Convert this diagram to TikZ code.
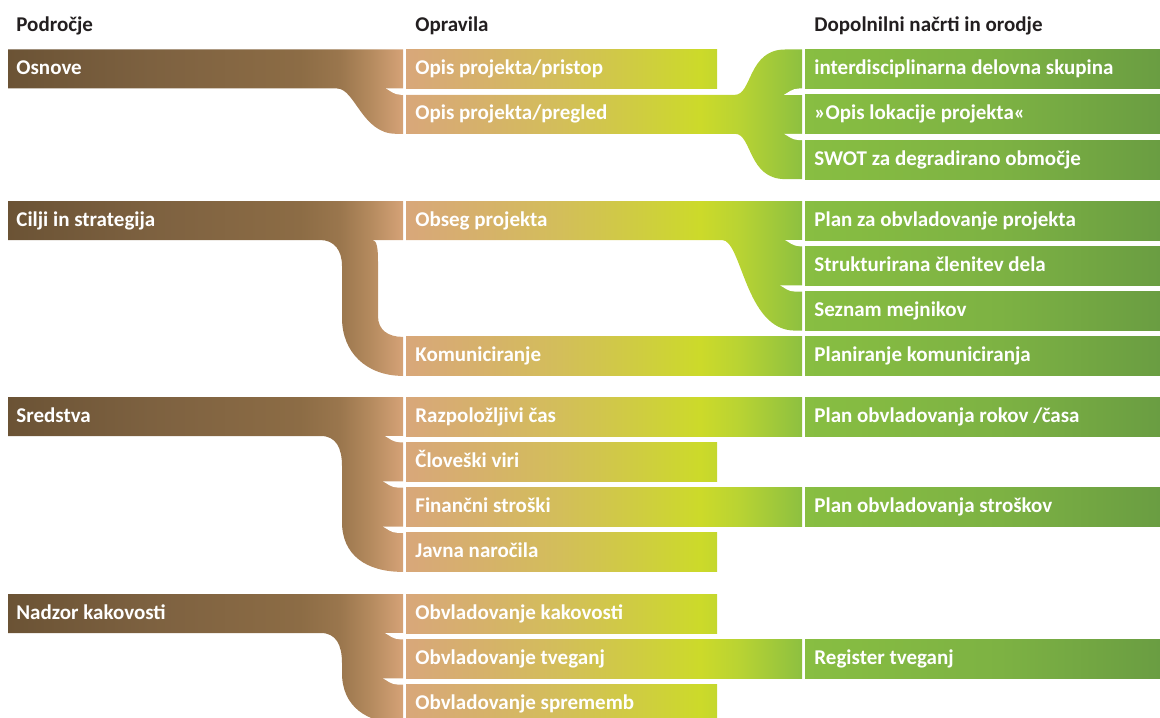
\documentclass[tikz,border=0pt]{standalone}
\usepackage{fontspec}
\setmainfont{Carlito}
\definecolor{g0}{HTML}{6A5234}
\definecolor{g1}{HTML}{6B5335}
\definecolor{g2}{HTML}{7D6140}
\definecolor{g3}{HTML}{8C6C45}
\definecolor{g4}{HTML}{9A764D}
\definecolor{g5}{HTML}{B48A5E}
\definecolor{g6}{HTML}{D5A277}
\definecolor{g7}{HTML}{D8A77A}
\definecolor{g8}{HTML}{D6B16B}
\definecolor{g9}{HTML}{D3BE5A}
\definecolor{g10}{HTML}{CFCD40}
\definecolor{g11}{HTML}{CCDA2A}
\definecolor{g12}{HTML}{B8D333}
\definecolor{g13}{HTML}{8DC040}
\definecolor{g14}{HTML}{88BE42}
\definecolor{g15}{HTML}{7DB243}
\definecolor{g16}{HTML}{6A9D42}
\definecolor{hdrc}{HTML}{231F20}
\pgfdeclarehorizontalshading{gbar}{100bp}{color(0bp)=(g0); color(25bp)=(g0);
 color(25.345bp)=(g1); color(31.466bp)=(g2); color(37.931bp)=(g3); color(39.655bp)=(g4);
 color(40.948bp)=(g5); color(42.371bp)=(g6); color(42.5bp)=(g7); color(45.69bp)=(g8);
 color(49.138bp)=(g9); color(52.586bp)=(g10); color(55.172bp)=(g11); color(56.897bp)=(g12);
 color(59.569bp)=(g13); color(59.698bp)=(g14); color(68.103bp)=(g15); color(75bp)=(g16);
 color(100bp)=(g16)}
\newcommand\gfill[1]{\begin{scope}\clip #1;\shade[shading=gbar] (0,0) rectangle (1160,717);\end{scope}}
% sliver: tip x, length, top y, height ; straight top, curved bottom
\newcommand\slivA[4]{\fill[white,shift={(#1,#3)}] (0,0) -- (#2,0) -- (#2,#4) -- (15,#4) .. controls (8,#4) and (4,2) .. (0,0) -- cycle;}
% sliver: curved top, straight bottom
\newcommand\slivB[4]{\fill[white,shift={(#1,#3)}] (0,#4) -- (#2,#4) -- (#2,0) -- (15,0) .. controls (8,0) and ({4},{#4-2}) .. (0,#4) -- cycle;}
\tikzset{
 lbl/.style={anchor=base west, inner sep=0pt, text=white, font=\fontsize{10.5}{12}\selectfont\bfseries},
 hdr/.style={lbl, text=hdrc}
}
\begin{document}
\begin{tikzpicture}[x=0.5pt,y=-0.5pt]
\useasboundingbox (0,0) rectangle (1160,717);
% ---------- column 1 ----------
\gfill{(8,49.5) -- (403,49.5) -- (403,133.8) -- (396,133.8) .. controls (362,133.8) and (355,88.5) .. (337,88.5) -- (8,88.5) -- cycle}
\gfill{(8,201) -- (403,201) -- (403,240) -- (372,240) .. controls (377,240) and (378,248) .. (378,262) -- (378,316) .. controls (378,330) and (388,336.9) .. (403,336.9) -- (403,375.9) .. controls (366,375.9) and (342,352) .. (342,318) -- (342,266) .. controls (342,250) and (334,240) .. (320,240) -- (8,240) -- cycle}
\gfill{(8,397) -- (403,397) -- (403,571.9) .. controls (366,571.9) and (342,555) .. (342,522) -- (342,466) .. controls (342,448) and (336,436) .. (321,436) -- (8,436) -- cycle}
\gfill{(8,594) -- (403,594) -- (403,723.6) .. controls (366,723.6) and (342,706) .. (342,673) -- (342,663) .. controls (342,645) and (336,633) .. (321,633) -- (8,633) -- cycle}
% ---------- column 2 ----------
\gfill{(406,49.5) rectangle (717,88.5)}
\gfill{(406,94.8) -- (735,94.8) .. controls (752,94.8) and (748,49.5) .. (785,49.5) -- (802,49.5) -- (802,179.1) -- (785,179.1) .. controls (748,179.1) and (752,133.8) .. (735,133.8) -- (406,133.8) -- cycle}
\gfill{(406,201) -- (802,201) -- (802,330.6) -- (795,330.6) .. controls (745,330.6) and (742,240) .. (722,240) -- (406,240) -- cycle}
\gfill{(406,336.9) rectangle (802,375.9)}
\gfill{(406,397) rectangle (802,436)}
\gfill{(406,442.3) rectangle (717,481.3)}
\gfill{(406,487.6) rectangle (802,526.6)}
\gfill{(406,532.9) rectangle (717,571.9)}
\gfill{(406,594) rectangle (717,633)}
\gfill{(406,639.3) rectangle (802,678.3)}
\gfill{(406,684.6) rectangle (717,723.6)}
% ---------- column 3 ----------
\gfill{(805,49.5) rectangle (1160,88.5)}
\gfill{(805,94.8) rectangle (1160,133.8)}
\gfill{(805,140.1) rectangle (1160,179.1)}
\gfill{(805,201) rectangle (1160,240)}
\gfill{(805,246.3) rectangle (1160,285.3)}
\gfill{(805,291.6) rectangle (1160,330.6)}
\gfill{(805,336.9) rectangle (1160,375.9)}
\gfill{(805,397) rectangle (1160,436)}
\gfill{(805,487.6) rectangle (1160,526.6)}
\gfill{(805,639.3) rectangle (1160,678.3)}
% ---------- white slivers ----------
\slivA{386}{18}{88.5}{6.3}
\slivA{385}{19}{436}{6.3}
\slivA{383}{21}{481.3}{6.3}
\slivA{383}{21}{526.6}{6.3}
\slivA{385}{19}{633}{6.3}
\slivA{383}{21}{678.3}{6.3}
\slivB{784}{19}{88.5}{6.3}
\slivA{784}{19}{133.8}{6.3}
\slivA{785}{18}{240}{6.3}
\slivA{780}{23}{285.3}{6.3}
% ---------- headers ----------
\node[hdr] (h1) at (16,32) {Področje};
\node[hdr] (h2) at (415,32) {Opravila};
\node[hdr] (h3) at (814,32) {Dopolnilni načrti in orodje};
% ---------- column 1 labels ----------
\node[lbl] (p1) at (16,74.5) {Osnove};
\node[lbl] (p2) at (16,226) {Cilji in strategija};
\node[lbl] (p3) at (16,422) {Sredstva};
\node[lbl] (p4) at (16,619) {Nadzor kakovosti};
% ---------- column 2 labels ----------
\node[lbl] (o1) at (415,74.5) {Opis projekta/pristop};
\node[lbl] (o2) at (415,119.8) {Opis projekta/pregled};
\node[lbl] (o3) at (415,226) {Obseg projekta};
\node[lbl] (o4) at (415,361.9) {Komuniciranje};
\node[lbl] (o5) at (415,422) {Razpoložljivi čas};
\node[lbl] (o6) at (415,467.3) {Človeški viri};
\node[lbl] (o7) at (415,512.6) {Finančni stroški};
\node[lbl] (o8) at (415,557.9) {Javna naročila};
\node[lbl] (o9) at (415,619) {Obvladovanje kakovosti};
\node[lbl] (o10) at (415,664.3) {Obvladovanje tveganj};
\node[lbl] (o11) at (415,709.6) {Obvladovanje sprememb};
% ---------- column 3 labels ----------
\node[lbl] (d1) at (814,74.5) {interdisciplinarna delovna skupina};
\node[lbl] (d2) at (814,119.8) {»Opis lokacije projekta«};
\node[lbl] (d3) at (814,165.1) {SWOT za degradirano območje};
\node[lbl] (d4) at (814,226) {Plan za obvladovanje projekta};
\node[lbl] (d5) at (814,271.3) {Strukturirana členitev dela};
\node[lbl] (d6) at (814,316.6) {Seznam mejnikov};
\node[lbl] (d7) at (814,361.9) {Planiranje komuniciranja};
\node[lbl] (d8) at (814,422) {Plan obvladovanja rokov /časa};
\node[lbl] (d9) at (814,512.6) {Plan obvladovanja stroškov};
\node[lbl] (d10) at (814,664.3) {Register tveganj};
\end{tikzpicture}
\end{document}
